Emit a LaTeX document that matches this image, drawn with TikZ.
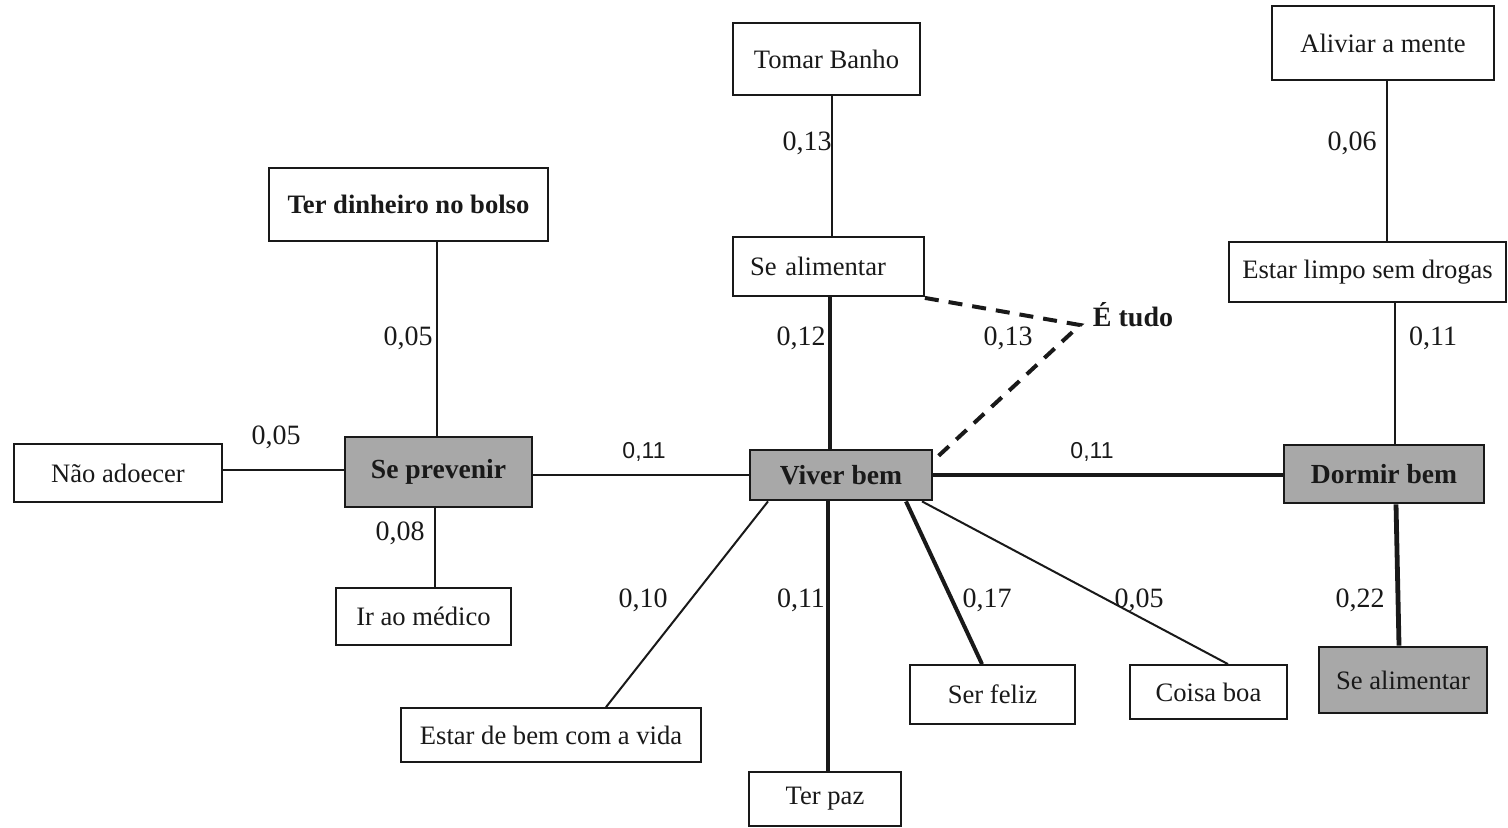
\documentclass[tikz,border=0pt]{standalone}
\usepackage{fontspec}
\setmainfont{Liberation Serif}
\setsansfont{Liberation Sans}
\usetikzlibrary{calc}
\newcommand\boxfont{\fontsize{13.3}{15}\selectfont}
\newcommand\hubfont{\fontsize{13.8}{15}\selectfont\bfseries}
\newcommand\numfont{\fontsize{14}{16}\selectfont}
\newcommand\numsansfont{\sffamily\fontsize{11.5}{13}\selectfont}
\definecolor{hubgray}{RGB}{168,168,168}
\definecolor{ink}{RGB}{25,25,25}
\tikzset{
  box/.style={draw=ink, rectangle, line width=0.9pt, inner sep=0pt, fill=white, font=\boxfont, text=ink},
  hub/.style={box, fill=hubgray, line width=1.4pt},
  num/.style={font=\numfont, inner sep=0pt, text=ink},
  numsans/.style={font=\numsansfont, inner sep=0pt, text=ink},
  link/.style={draw=ink, line width=1pt},
  strong/.style={draw=ink, line width=2pt},
  guess/.style={draw=ink, line width=2pt, dash pattern=on 7pt off 5pt}
}
\begin{document}
\begin{tikzpicture}[x=0.5pt, y=-0.5pt]
\useasboundingbox (0,0) rectangle (1508,827);

% boxes (sizes in pt = half the drawing units)
\node[box, minimum width=93.5pt, minimum height=36pt] (tb) at (826.5,59) {Tomar Banho};
\node[box, minimum width=111pt, minimum height=37pt] (am) at (1383,43) {Aliviar a mente};
\node[box, minimum width=139.5pt, minimum height=36.5pt, font=\boxfont\bfseries] (td) at (408.5,204.5) {Ter dinheiro no bolso};
\node[box, minimum height=29.5pt, inner xsep=8.5pt, text width=78.5pt, align=left] (sa1) at (828.5,266.5) {Se alimentar};
\node[box, minimum width=138.5pt, minimum height=30pt] (el) at (1367.5,272) {Estar limpo sem drogas};
\node[box, minimum width=104pt, minimum height=29pt] (na) at (118,473) {Não adoecer};
\node[hub, minimum width=93.5pt, minimum height=35pt, font=\hubfont] (sp) at (438.5,472) {Se prevenir};
\node[hub, minimum width=91pt, minimum height=25pt, font=\hubfont] (vb) at (841,475) {Viver bem};
\node[hub, minimum width=100pt, minimum height=29pt, font=\hubfont] (db) at (1384,474) {Dormir bem};
\node[box, minimum width=87.5pt, minimum height=28.5pt] (im) at (423.5,616.5) {Ir ao médico};
\node[box, minimum width=150pt, minimum height=27pt] (ev) at (551,735) {Estar de bem com a vida};
\node[box, minimum width=76pt, minimum height=27pt] (tp) at (825,799) {Ter paz};
\node[box, minimum width=82.5pt, minimum height=29.5pt] (sf) at (992.5,694.5) {Ser feliz};
\node[box, minimum width=78.5pt, minimum height=27pt] (cb) at (1208.5,692) {Coisa boa};
\node[hub, minimum width=84pt, minimum height=33pt] (sa2) at (1403,680) {Se alimentar};

% connectors
\draw[link] ([xshift=2.75pt]tb.south) -- ([xshift=1.75pt]sa1.north);
\draw[strong, line width=1.6pt] ([xshift=0.75pt]sa1.south) -- ([xshift=-5.5pt]vb.north);
\draw[link] ([xshift=14.25pt]td.south) -- ([xshift=-0.75pt]sp.north);
\draw[link] ([yshift=1.5pt]na.east) -- ([yshift=1pt]sp.west);
\draw[link] ([xshift=-1.75pt]sp.south) -- ([xshift=5.75pt]im.north);
\draw[link] ([yshift=-1.5pt]sp.east) -- (vb.west);
\draw[strong] (vb.east) -- ([yshift=-0.5pt]db.west);
\draw[link] ([xshift=2pt]am.south) -- ([xshift=9.75pt]el.north);
\draw[link] ([xshift=13.75pt]el.south) -- ([xshift=5.5pt]db.north);
\draw[strong, line width=2.4pt] ([xshift=6pt]db.south) -- ([xshift=-2pt]sa2.north);
\draw[link] ([xshift=-36.5pt]vb.south) -- ([xshift=27.5pt]ev.north);
\draw[strong] ([xshift=-6.5pt]vb.south) -- ([xshift=1.5pt]tp.north);
\draw[strong] ([xshift=32.5pt]vb.south) -- ([xshift=-5.25pt]sf.north);
\draw[link] ([xshift=40.5pt]vb.south) -- ([xshift=9.75pt]cb.north);

% dashed link to "É tudo"
\coordinate (et) at (1080,325);
\draw[guess] ([yshift=-0.5pt]sa1.south east) -- (et) -- ([yshift=-6pt]vb.north east);
\node[num, font=\numfont\bfseries] (etl) at (1133,315) {É tudo};

% weights
\node[num] (w1) at (807,143) {0,13};
\node[num] (w2) at (1352,143) {0,06};
\node[num] (w3) at (408,338) {0,05};
\node[num] (w4) at (801,338) {0,12};
\node[num] (w5) at (1008,338) {0,13};
\node[num] (w6) at (1433,338) {0,11};
\node[num] (w7) at (276,437) {0,05};
\node[numsans] (w8) at (644,452) {0,11};
\node[numsans] (w9) at (1092,452) {0,11};
\node[num] (w10) at (400,533) {0,08};
\node[num] (w11) at (643,600) {0,10};
\node[num] (w12) at (801,600) {0,11};
\node[num] (w13) at (987,600) {0,17};
\node[num] (w14) at (1139,600) {0,05};
\node[num] (w15) at (1360,600) {0,22};
\end{tikzpicture}
\end{document}
